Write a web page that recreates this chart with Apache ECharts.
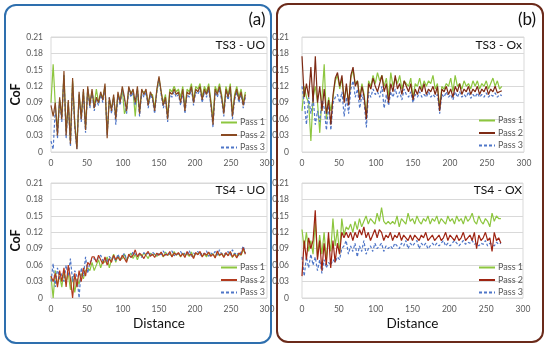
<!DOCTYPE html>
<html><head><meta charset="utf-8">
<script src="https://cdn.jsdelivr.net/npm/echarts@6/dist/echarts.min.js"></script>
<style>html,body{margin:0;padding:0;background:#fff}#c{width:550px;height:349px}</style>
</head><body><div id="c"></div>
<script>
const distance = [0,3,6,9,12,15,18,21,24,27,30,33,36,39,42,45,48,51,54,57,60,63,66,69,72,75,78,81,84,87,90,93,96,99,102,105,108,111,114,117,120,123,126,129,132,135,138,141,144,147,150,153,156,159,162,165,168,171,174,177,180,183,186,189,192,195,198,201,204,207,210,213,216,219,222,225,228,231,234,237,240,243,246,249,252,255,258,261,264,267,270];
const yTicks = [0,0.03,0.06,0.09,0.12,0.15,0.18,0.21];
const xTicks = [0,50,100,150,200,250,300];
const passNames = ['Pass 1','Pass 2','Pass 3'];
const panelTitles = ['TS3 - UO','TS4 - UO','TS3 - Ox','TS4 - OX'];

const ts3uo_p1 = [0.09,0.16,0.085,0.04,0.095,0.065,0.14,0.04,0.09,0.02,
0.13,0.055,0.01,0.105,0.065,0.11,0.045,0.115,0.09,0.11,
0.085,0.115,0.09,0.105,0.10,0.12,0.035,0.095,0.08,0.10,
0.065,0.105,0.095,0.115,0.07,0.08,0.115,0.11,0.11,0.065,
0.115,0.075,0.11,0.11,0.11,0.09,0.105,0.105,0.08,0.11,
0.135,0.11,0.09,0.105,0.065,0.115,0.11,0.12,0.11,0.115,
0.10,0.12,0.08,0.115,0.11,0.125,0.095,0.12,0.115,0.125,
0.10,0.12,0.11,0.125,0.095,0.06,0.12,0.11,0.125,0.105,
0.075,0.12,0.105,0.125,0.07,0.105,0.12,0.10,0.115,0.09,
0.11];
const ts3uo_p2 = [0.085,0.065,0.09,0.03,0.10,0.06,0.148,0.03,0.095,0.015,
0.135,0.05,0.005,0.11,0.06,0.115,0.04,0.12,0.085,0.115,
0.08,0.10,0.09,0.11,0.095,0.125,0.025,0.10,0.075,0.105,
0.06,0.11,0.09,0.12,0.10,0.075,0.12,0.105,0.115,0.09,
0.12,0.07,0.115,0.105,0.115,0.085,0.11,0.10,0.075,0.115,
0.138,0.11,0.085,0.10,0.06,0.11,0.105,0.115,0.105,0.11,
0.09,0.115,0.075,0.11,0.105,0.12,0.09,0.115,0.11,0.12,
0.095,0.115,0.105,0.12,0.09,0.05,0.115,0.105,0.12,0.10,
0.07,0.115,0.10,0.12,0.065,0.10,0.115,0.095,0.11,0.085,
0.105];
const ts3uo_p3 = [0.02,0.005,0.08,0.025,0.095,0.055,0.14,0.025,0.09,0.01,
0.125,0.045,0.005,0.105,0.055,0.11,0.035,0.115,0.08,0.11,
0.075,0.095,0.085,0.105,0.09,0.12,0.03,0.10,0.07,0.10,
0.05,0.105,0.085,0.115,0.095,0.07,0.115,0.10,0.11,0.085,
0.115,0.065,0.11,0.10,0.11,0.08,0.105,0.095,0.07,0.11,
0.135,0.105,0.08,0.095,0.055,0.105,0.10,0.11,0.10,0.105,
0.085,0.11,0.07,0.105,0.10,0.115,0.085,0.11,0.105,0.115,
0.09,0.11,0.10,0.115,0.085,0.045,0.11,0.10,0.115,0.095,
0.065,0.11,0.095,0.115,0.06,0.095,0.11,0.09,0.105,0.08,
0.10];

const ts4uo_p1 = [0.04,0.0,0.05,0.025,0.04,0.02,0.05,0.03,0.045,0.015,
0.04,0.01,0.035,0.025,0.045,0.035,0.05,0.055,0.05,0.065,
0.05,0.06,0.07,0.055,0.068,0.065,0.075,0.055,0.07,0.08,
0.065,0.078,0.07,0.072,0.08,0.068,0.076,0.082,0.072,0.08,
0.07,0.08,0.076,0.082,0.078,0.072,0.082,0.078,0.08,0.076,
0.08,0.082,0.075,0.084,0.078,0.08,0.076,0.085,0.078,0.082,
0.075,0.082,0.078,0.08,0.076,0.084,0.074,0.082,0.08,0.083,
0.077,0.08,0.075,0.083,0.078,0.081,0.074,0.084,0.077,0.082,
0.076,0.081,0.078,0.084,0.074,0.082,0.076,0.08,0.078,0.088,
0.082];
const ts4uo_p2 = [0.04,0.03,0.045,0.02,0.05,0.03,0.055,0.02,0.06,0.035,
0.0,0.045,0.02,0.05,0.03,0.055,0.04,0.065,0.06,0.075,
0.075,0.065,0.078,0.07,0.062,0.075,0.06,0.072,0.065,0.078,
0.07,0.075,0.068,0.078,0.072,0.065,0.08,0.074,0.078,0.088,
0.075,0.082,0.078,0.072,0.08,0.085,0.076,0.08,0.074,0.082,
0.078,0.084,0.076,0.08,0.078,0.085,0.075,0.082,0.079,0.083,
0.076,0.081,0.074,0.085,0.078,0.08,0.072,0.083,0.079,0.085,
0.075,0.082,0.078,0.084,0.076,0.08,0.073,0.086,0.078,0.081,
0.074,0.083,0.077,0.085,0.075,0.08,0.073,0.082,0.079,0.092,
0.08];
const ts4uo_p3 = [0.03,0.063,0.02,0.055,0.035,0.045,0.03,0.06,0.04,0.072,
0.03,0.05,0.04,0.0,0.055,0.04,0.075,0.045,0.065,0.07,
0.072,0.068,0.074,0.078,0.068,0.072,0.065,0.076,0.07,0.075,
0.068,0.08,0.07,0.076,0.082,0.07,0.078,0.075,0.085,0.08,
0.078,0.08,0.074,0.083,0.079,0.082,0.077,0.084,0.08,0.078,
0.082,0.079,0.086,0.078,0.083,0.08,0.086,0.077,0.082,0.08,
0.085,0.078,0.082,0.08,0.087,0.076,0.082,0.08,0.085,0.078,
0.083,0.08,0.086,0.076,0.082,0.079,0.085,0.078,0.088,0.08,
0.082,0.079,0.085,0.078,0.088,0.08,0.083,0.077,0.084,0.095,
0.082];

const ts3ox_p1 = [0.075,0.12,0.10,0.09,0.02,0.10,0.12,0.09,0.035,0.10,
0.16,0.06,0.10,0.075,0.10,0.13,0.14,0.115,0.135,0.095,
0.12,0.09,0.135,0.15,0.125,0.13,0.10,0.125,0.105,0.065,
0.13,0.12,0.14,0.125,0.145,0.13,0.14,0.12,0.135,0.10,
0.145,0.12,0.135,0.125,0.14,0.115,0.13,0.125,0.12,0.135,
0.10,0.125,0.12,0.135,0.115,0.13,0.12,0.13,0.125,0.14,
0.115,0.125,0.08,0.12,0.115,0.125,0.12,0.135,0.11,0.14,
0.12,0.125,0.115,0.13,0.12,0.125,0.115,0.13,0.12,0.13,
0.115,0.125,0.12,0.13,0.115,0.125,0.135,0.12,0.13,0.115,
0.12];
const ts3ox_p2 = [0.175,0.10,0.125,0.10,0.155,0.09,0.175,0.09,0.12,0.075,
0.115,0.07,0.095,0.05,0.105,0.135,0.145,0.12,0.14,0.09,
0.125,0.085,0.14,0.155,0.12,0.13,0.095,0.12,0.10,0.06,
0.125,0.115,0.135,0.12,0.11,0.125,0.14,0.11,0.125,0.09,
0.125,0.11,0.14,0.115,0.125,0.105,0.13,0.12,0.11,0.125,
0.095,0.115,0.105,0.12,0.11,0.125,0.105,0.115,0.11,0.12,
0.105,0.12,0.075,0.115,0.11,0.12,0.105,0.115,0.10,0.12,
0.11,0.125,0.105,0.115,0.11,0.12,0.105,0.115,0.11,0.12,
0.105,0.115,0.11,0.12,0.105,0.115,0.11,0.12,0.108,0.11,
0.112];
const ts3ox_p3 = [0.12,0.09,0.05,0.10,0.07,0.10,0.05,0.075,0.055,0.095,
0.08,0.04,0.085,0.04,0.09,0.10,0.105,0.09,0.11,0.065,
0.10,0.07,0.115,0.13,0.10,0.115,0.08,0.105,0.09,0.045,
0.11,0.10,0.115,0.105,0.11,0.10,0.12,0.08,0.105,0.085,
0.11,0.10,0.115,0.10,0.11,0.095,0.115,0.105,0.10,0.11,
0.09,0.105,0.10,0.11,0.10,0.105,0.10,0.11,0.10,0.105,
0.10,0.105,0.07,0.105,0.10,0.11,0.10,0.105,0.095,0.11,
0.10,0.11,0.10,0.105,0.10,0.11,0.098,0.105,0.10,0.108,
0.10,0.105,0.10,0.108,0.10,0.105,0.102,0.108,0.10,0.105,
0.103];

const ts4ox_p1 = [0.125,0.09,0.12,0.085,0.105,0.08,0.14,0.075,0.115,0.08,
0.12,0.07,0.11,0.085,0.145,0.095,0.125,0.08,0.145,0.115,
0.13,0.125,0.135,0.12,0.14,0.125,0.145,0.13,0.14,0.15,
0.135,0.145,0.14,0.135,0.155,0.14,0.165,0.14,0.135,0.14,
0.135,0.14,0.135,0.15,0.13,0.145,0.14,0.135,0.155,0.14,
0.145,0.135,0.15,0.14,0.135,0.145,0.14,0.15,0.135,0.145,
0.14,0.15,0.135,0.145,0.14,0.135,0.15,0.14,0.145,0.135,
0.15,0.14,0.145,0.135,0.15,0.14,0.145,0.155,0.14,0.135,
0.15,0.14,0.135,0.145,0.14,0.13,0.155,0.14,0.15,0.145,
0.145];
const ts4ox_p2 = [0.04,0.105,0.07,0.11,0.09,0.105,0.16,0.07,0.105,0.05,
0.10,0.06,0.12,0.055,0.105,0.065,0.10,0.08,0.12,0.11,
0.12,0.11,0.12,0.105,0.12,0.11,0.125,0.115,0.13,0.11,
0.12,0.105,0.115,0.125,0.11,0.125,0.12,0.105,0.115,0.11,
0.12,0.105,0.115,0.11,0.12,0.105,0.115,0.11,0.105,0.115,
0.105,0.115,0.11,0.105,0.115,0.11,0.12,0.105,0.11,0.115,
0.105,0.11,0.115,0.105,0.11,0.12,0.105,0.115,0.11,0.105,
0.115,0.105,0.11,0.12,0.105,0.11,0.115,0.105,0.12,0.09,
0.115,0.105,0.11,0.12,0.105,0.11,0.085,0.12,0.105,0.11,
0.10];
const ts4ox_p3 = [0.075,0.04,0.075,0.055,0.08,0.06,0.075,0.05,0.07,0.045,
0.07,0.055,0.065,0.06,0.07,0.065,0.075,0.07,0.09,0.095,
0.105,0.08,0.095,0.085,0.10,0.075,0.095,0.085,0.105,0.08,
0.09,0.095,0.085,0.10,0.09,0.095,0.10,0.085,0.095,0.09,
0.095,0.09,0.10,0.095,0.09,0.10,0.095,0.105,0.09,0.10,
0.095,0.10,0.105,0.09,0.10,0.095,0.10,0.09,0.095,0.10,
0.095,0.10,0.095,0.10,0.105,0.095,0.10,0.095,0.10,0.105,
0.10,0.095,0.10,0.105,0.098,0.102,0.10,0.105,0.098,0.10,
0.095,0.10,0.098,0.105,0.095,0.10,0.098,0.095,0.102,0.098,
0.10];

const panelData = [
  [ts3uo_p1, ts3uo_p2, ts3uo_p3],
  [ts4uo_p1, ts4uo_p2, ts4uo_p3],
  [ts3ox_p1, ts3ox_p2, ts3ox_p3],
  [ts4ox_p1, ts4ox_p2, ts4ox_p3]
];

const FONT = 'Lato, "Open Sans", sans-serif';
const green = '#8DC63F', blue = '#4F76C8';
const red = ['#8A4A22', '#B23A1E', '#7E2A14', '#9E2412'];
const grids = [
  {left: 51, top: 37, width: 216, height: 115},
  {left: 51, top: 183, width: 216, height: 115},
  {left: 302, top: 37, width: 222, height: 115},
  {left: 302, top: 183, width: 221, height: 115}
];
const legendPos = [
  {left: 220, top: 118}, {left: 220, top: 263},
  {left: 478, top: 116}, {left: 478, top: 263}
];
const titlePos = [[265, 45], [265, 190], [522, 45], [522, 190]];

const option = {
  animation: false,
  backgroundColor: '#fff',
  textStyle: {fontFamily: FONT},
  grid: grids.map(g => Object.assign({show: true, borderColor: '#D9D9D9', borderWidth: 1, containLabel: false}, g)),
  xAxis: grids.map((g, i) => ({
    type: 'value', gridIndex: i, min: xTicks[0], max: xTicks[xTicks.length - 1], interval: 50,
    axisLine: {show: false}, axisTick: {show: false},
    splitLine: {show: false},
    axisLabel: {color: '#595959', fontSize: 8.5, margin: 7, fontFamily: FONT},
    name: (i === 1 || i === 3) ? 'Distance' : '',
    nameLocation: 'middle', nameGap: 19,
    nameTextStyle: {fontSize: 13.5, color: '#111', fontFamily: FONT}
  })),
  yAxis: grids.map((g, i) => ({
    type: 'value', gridIndex: i, min: yTicks[0], max: yTicks[yTicks.length - 1], interval: 0.03,
    axisLine: {show: false}, axisTick: {show: false},
    splitLine: {lineStyle: {color: '#D9D9D9', width: 1}},
    axisLabel: {color: '#595959', fontSize: 8.5, margin: i < 2 ? 8 : 13, fontFamily: FONT,
      formatter: v => v === 0 ? '0' : v.toFixed(2)},
    name: i < 2 ? 'CoF' : '',
    nameLocation: 'middle', nameGap: 23, nameRotate: 90,
    nameTextStyle: {fontSize: 12.5, fontWeight: 'bold', color: '#111', fontFamily: FONT}
  })),
  legend: legendPos.map((p, i) => ({
    show: true,
    left: p.left, top: p.top, orient: 'vertical', itemGap: 3.5, itemWidth: 16, itemHeight: 9,
    selectedMode: false, padding: 0,
    textStyle: {fontSize: 9, color: '#595959', fontFamily: FONT, padding: [0, 0, 0, -2]},
    itemStyle: {opacity: 0},
    data: [
      {name: passNames[0], itemStyle: {opacity: 0}, lineStyle: {color: green, opacity: 1}},
      {name: passNames[1], itemStyle: {opacity: 0}, lineStyle: {color: red[i], opacity: 1}},
      {name: passNames[2], itemStyle: {opacity: 0}, lineStyle: {color: blue, opacity: 1}}
    ]
  })),
  series: [],
  graphic: [
    {type: 'rect', shape: {x: 5, y: 5, width: 266, height: 338, r: 11}, style: {fill: 'none', stroke: '#2E6FAE', lineWidth: 2}},
    {type: 'rect', shape: {x: 277, y: 4, width: 266, height: 338, r: 11}, style: {fill: 'none', stroke: '#6B2A1A', lineWidth: 2}},
    {type: 'text', x: 257, y: 20, style: {text: '(a)', font: '17px ' + FONT, fill: '#111', textAlign: 'center', textVerticalAlign: 'middle'}},
    {type: 'text', x: 527, y: 20, style: {text: '(b)', font: '17px ' + FONT, fill: '#111', textAlign: 'center', textVerticalAlign: 'middle'}}
  ].concat(titlePos.map((p, i) => ({
    type: 'text', x: p[0], y: p[1], z: 10,
    style: {text: panelTitles[i], font: '12px ' + FONT, fill: '#111', textAlign: 'right', textVerticalAlign: 'middle'}
  })))
};

panelData.forEach((sets, gi) => {
  sets.forEach((vals, si) => {
    const color = si === 0 ? green : (si === 1 ? red[gi] : blue);
    option.series.push({
      type: 'line', name: passNames[si], xAxisIndex: gi, yAxisIndex: gi,
      data: distance.map((d, k) => [d, vals[k]]),
      symbol: 'none', z: si === 2 ? 3 : (si === 1 ? 4 : 2),
      lineStyle: {color: color, width: 1.2, type: si === 2 ? [3, 2] : 'solid'},
      itemStyle: {color: color}
    });
  });
});

const chart = echarts.init(document.getElementById('c'), null, {renderer: 'canvas'});
chart.setOption(option);
</script>
</body></html>
